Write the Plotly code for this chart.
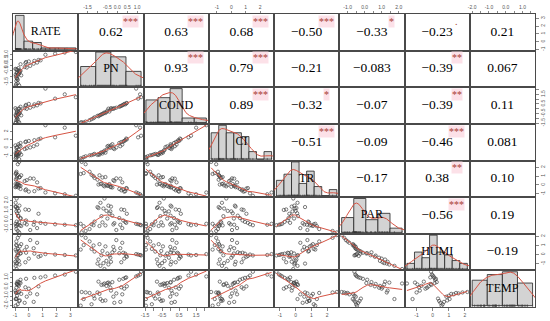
import numpy as np
import plotly.graph_objects as go
from plotly.subplots import make_subplots

VARS = ["RATE", "PN", "COND", "CI", "TR", "PAR", "HUMI", "TEMP"]

RATE = [-0.70, -0.80, 0.10, -0.90, 0.60, -0.55, -0.85, -0.15, -0.92, -0.65,
        0.35, -0.80, -0.95, -0.30, -0.70, -0.88, 3.40, 2.60, 1.90, 1.20,
        0.85, 0.40, -0.20, -0.60, -0.75, -0.85, -0.60, -0.78, 0.70, -0.90,
        0.00, -0.82, -0.97, -0.72, -0.25, -0.85, -0.93, -0.68, -0.95, -0.88]
PN = [-1.80, -1.60, -0.05, -1.40, 0.25, -0.90, -1.20, -0.20, -1.70, -0.60,
      0.15, -1.30, -1.85, -0.15, -0.75, -1.15, 1.20, 1.15, 1.05, 0.95,
      0.45, 0.40, 0.30, 0.10, -0.25, -0.40, -0.50, -0.80, 0.48, -0.35,
      0.35, -0.95, -0.32, -0.55, 0.20, -0.70, -1.00, -0.45, -0.85, -0.65]
COND = [-1.42, -1.35, 0.10, -1.20, 0.35, -0.70, -1.00, -0.02, -1.45, -0.45,
        0.25, -1.10, -1.45, 0.05, -0.55, -0.90, 1.20, 1.50, 1.05, 2.10,
        0.55, 0.45, 0.40, 0.20, 0.00, -0.30, -0.20, -0.60, 0.60, -0.10,
        0.50, -0.80, 0.05, -0.35, 0.30, -0.50, -0.75, 0.00, -0.65, -0.40]
CI = [-1.40, -1.05, 0.05, -0.93, 0.40, -0.85, -0.82, -0.05, -1.15, -0.60,
      0.20, -0.90, -1.30, -0.15, -0.70, -0.75, 1.50, 2.50, 1.30, 2.80,
      1.15, 0.95, 0.78, 0.60, 0.45, 0.10, 0.18, -0.55, 1.05, 0.00,
      0.85, -0.80, 0.30, -0.25, 0.72, -0.50, -0.88, 0.25, -0.65, -0.35]
TR = [2.62, 2.35, 0.75, 1.50, 0.30, 1.10, 1.00, 0.55, 1.35, 0.90,
      0.72, 1.15, 1.25, 0.45, 0.85, 0.80, -1.22, -1.05, -0.95, -0.85,
      -0.35, -0.70, -0.50, -0.45, -0.28, 0.10, -0.10, 0.15, -0.40, -0.20,
      -0.75, 0.05, -0.25, 0.00, -0.60, -0.05, 0.60, -0.08, 0.12, -0.15]
PAR = [-1.35, -1.20, -1.10, -1.00, -0.90, -0.68, -0.60, -0.52, -0.70, -0.62,
       -0.55, -0.50, -0.45, -0.38, -0.30, -0.22, -0.60, -0.55, -0.50, -0.45,
       -0.35, -0.25, -0.10, 0.15, 0.40, 0.65, 0.10, 0.35, 0.60, 0.85,
       1.00, 1.20, 1.35, 0.90, 1.05, 1.15, 1.30, 1.45, 1.75, 2.20]
HUMI = [2.15, 1.85, 1.60, 1.45, 1.30, 1.15, 1.00, 0.85, 1.05, 0.90,
        0.70, 0.62, 0.55, 0.48, 0.40, 0.33, -0.10, -0.05, 0.00, 0.05,
        -0.15, 0.10, 0.20, 0.15, 0.25, -0.12, 0.12, -0.08, -0.25, -0.35,
        -0.45, -0.55, -0.80, -0.70, -0.85, -0.95, -1.00, -1.10, -1.25, -1.60]
TEMP = [-0.55, -0.60, -0.70, -0.65, -0.80, -0.75, -0.95, -1.05, -1.30, -1.45,
        -1.60, -1.85, -2.00, -1.70, -1.50, -1.25, 1.60, 1.30, 1.20, 1.10,
        1.00, 0.95, 0.85, 0.75, 0.50, 0.30, 0.40, 0.20, 0.05, -0.10,
        -0.20, 0.55, -0.40, 0.10, -0.05, 0.25, -0.60, 0.45, -1.30, 0.35]
DATA = [RATE, PN, COND, CI, TR, PAR, HUMI, TEMP]

# printed correlation coefficients (upper panels, row by row)
COR_ROWS = [
    ["0.62", "0.63", "0.68", "\u22120.50", "\u22120.33", "\u22120.23", "0.21"],
    ["0.93", "0.79", "\u22120.21", "\u22120.083", "\u22120.39", "0.067"],
    ["0.89", "\u22120.32", "\u22120.07", "\u22120.39", "0.11"],
    ["\u22120.51", "\u22120.09", "\u22120.46", "0.081"],
    ["\u22120.17", "0.38", "0.10"],
    ["\u22120.56", "0.19"],
    ["\u22120.19"],
]
SIG_ROWS = [
    ["***", "***", "***", "***", "*", ".", ""],
    ["***", "***", "", "", "**", ""],
    ["***", "*", "", "**", ""],
    ["***", "", "***", ""],
    ["", "**", ""],
    ["***", ""],
    [""],
]

TICKS = {
    "RATE": ([-1, 0, 1, 2, 3], ["-1", "0", "1", "2", "3"]),
    "PN": ([-1.5, -1.0, -0.5, 0.0, 0.5, 1.0], ["-1.5", "", "-0.5", "0.0", "0.5", "1.0"]),
    "COND": ([-1.5, -1.0, -0.5, 0.0, 0.5, 1.0, 1.5, 2.0],
             ["-1.5", "", "-0.5", "", "0.5", "", "1.5", ""]),
    "CI": ([-1, 0, 1, 2], ["-1", "0", "1", "2"]),
    "TR": ([-1, 0, 1, 2], ["-1", "0", "1", "2"]),
    "PAR": ([-1.0, -0.5, 0.0, 0.5, 1.0, 1.5, 2.0], ["-1.0", "", "0.0", "", "1.0", "", "2.0"]),
    "HUMI": ([-1, 0, 1, 2], ["-1", "0", "1", "2"]),
    "TEMP": ([-2.0, -1.5, -1.0, -0.5, 0.0, 0.5, 1.0, 1.5],
             ["-2.0", "", "-1.0", "", "0.0", "", "1.0", ""]),
}
HIST_BINS = [7, 4, 5, 8, 8, 5, 8, 4]

N = len(VARS)
SERIF = "Liberation Serif, Times New Roman, serif"
RED = "#d65444"
BORDER = "#4a4a4a"


def lowess(x, y, f=2 / 3, iters=3):
    x = np.asarray(x, float)
    y = np.asarray(y, float)
    o = np.argsort(x, kind="mergesort")
    x, y = x[o], y[o]
    n = len(x)
    ns = max(min(int(round(f * n)), n), 2)
    rw = np.ones(n)
    ys = np.zeros(n)
    for it in range(iters + 1):
        for i in range(n):
            d = np.abs(x - x[i])
            h = np.sort(d)[ns - 1]
            if h <= 0:
                w = (d <= 0).astype(float)
            else:
                u = np.clip(d / h, 0, 1)
                w = (1 - u ** 3) ** 3
                w[d > 0.999 * h] = 0
                w[d <= 0.001 * h] = 1
            w = w * rw
            sw = w.sum()
            if sw <= 0:
                ys[i] = y[i]
                continue
            xm = (w * x).sum() / sw
            ym = (w * y).sum() / sw
            sxx = (w * (x - xm) ** 2).sum()
            if np.sqrt(sxx / sw) > 0.001 * (x.max() - x.min()):
                b = (w * (x - xm) * (y - ym)).sum() / sxx
                ys[i] = ym + b * (x[i] - xm)
            else:
                ys[i] = ym
        if it == iters:
            break
        res = y - ys
        s = np.median(np.abs(res))
        if s <= 0:
            break
        u = res / (6 * s)
        rw = np.where(np.abs(u) < 1, (1 - u ** 2) ** 2, 0.0)
    return x, ys


def kde(v):
    v = np.asarray(v, float)
    n = len(v)
    sd = v.std(ddof=1)
    q75, q25 = np.percentile(v, [75, 25])
    bw = 0.9 * min(sd, (q75 - q25) / 1.34) * n ** -0.2
    g = np.linspace(v.min() - 3 * bw, v.max() + 3 * bw, 512)
    dens = np.exp(-0.5 * ((g[:, None] - v[None, :]) / bw) ** 2).sum(1) / (n * bw * np.sqrt(2 * np.pi))
    return g, dens


def padded(lo, hi):
    w = hi - lo
    return [float(lo - 0.04 * w), float(hi + 0.04 * w)]


RANGES = [padded(min(v), max(v)) for v in DATA]

fig = make_subplots(rows=N, cols=N, horizontal_spacing=0, vertical_spacing=0)

layout_axes = {}
annotations = []


def idx_of(r, c):
    return r * N + c + 1


def axkey(idx, a):
    return f"{a}axis" if idx == 1 else f"{a}axis{idx}"


def aref(idx, a):
    return a if idx == 1 else f"{a}{idx}"


base_axis = dict(showline=True, mirror=True, linecolor=BORDER, linewidth=1,
                 showgrid=False, zeroline=False, ticks="", showticklabels=False,
                 fixedrange=True, automargin=False)

for r in range(N):
    for c in range(N):
        idx = idx_of(r, c)
        xa = dict(base_axis)
        ya = dict(base_axis)
        if r > c:
            xv = np.asarray(DATA[c], float)
            yv = np.asarray(DATA[r], float)
            fig.add_trace(go.Scatter(x=xv, y=yv, mode="markers",
                                     marker=dict(symbol="circle-open", size=3.3,
                                                 color="#454545", line=dict(width=0.7, color="#454545")),
                                     hoverinfo="skip"), row=r + 1, col=c + 1)
            lx, ly = lowess(xv, yv)
            fig.add_trace(go.Scatter(x=lx, y=ly, mode="lines",
                                     line=dict(color=RED, width=1), hoverinfo="skip"),
                          row=r + 1, col=c + 1)
            xa["range"] = RANGES[c]
            ya["range"] = RANGES[r]
        elif r == c:
            v = np.asarray(DATA[r], float)
            edges = np.linspace(v.min(), v.max(), HIST_BINS[r] + 1)
            dens, _ = np.histogram(v, bins=edges, density=True)
            centers = (edges[:-1] + edges[1:]) / 2
            width = edges[1] - edges[0]
            fig.add_trace(go.Bar(x=centers, y=dens, width=width,
                                 marker=dict(color="#d3d3d3", line=dict(color="#222222", width=0.8)),
                                 hoverinfo="skip"), row=r + 1, col=c + 1)
            g, dd = kde(v)
            fig.add_trace(go.Scatter(x=g, y=dd, mode="lines",
                                     line=dict(color=RED, width=1), hoverinfo="skip"),
                          row=r + 1, col=c + 1)
            m = dens.max()
            ylo, yhi = -0.04 * m, 1.04 * m
            fig.add_trace(go.Scatter(x=v, y=np.full(len(v), ylo + 0.012 * (yhi - ylo)), mode="markers",
                                     marker=dict(symbol="line-ns", size=3,
                                                 line=dict(width=0.6, color="#333333")),
                                     hoverinfo="skip"), row=r + 1, col=c + 1)
            xa["range"] = padded(edges[0], edges[-1])
            ya["range"] = [float(ylo), float(yhi)]
            fig.add_trace(go.Scatter(x=[float(np.mean(xa["range"]))], y=[float(np.mean(ya["range"]))],
                                     mode="text", text=[VARS[r]], textposition="middle center",
                                     textfont=dict(family=SERIF, size=12, color="black"),
                                     hoverinfo="skip"), row=r + 1, col=c + 1)
        else:
            xa["range"] = RANGES[c]
            ya["range"] = RANGES[r]
            txt = COR_ROWS[r][c - r - 1]
            sig = SIG_ROWS[r][c - r - 1]
            fig.add_trace(go.Scatter(x=[float(np.mean(RANGES[c]))], y=[float(np.mean(RANGES[r]))],
                                     mode="text", text=[txt], textposition="middle center",
                                     textfont=dict(family=SERIF, size=13.5, color="black"),
                                     hoverinfo="skip"), row=r + 1, col=c + 1)
            if sig:
                ann = dict(text=sig, x=0.8, y=0.8, xanchor="center", yanchor="middle",
                           xref=f"{aref(idx, 'x')} domain", yref=f"{aref(idx, 'y')} domain",
                           showarrow=False, borderpad=0,
                           font=dict(family=SERIF, size=10, color="#a8402f"))
                if sig != ".":
                    ann["bgcolor"] = "rgba(252,222,230,0.9)"
                annotations.append(ann)

        tick_style = dict(ticks="outside", ticklen=2.5, tickwidth=0.7, tickcolor="#555555",
                          showticklabels=True,
                          tickfont=dict(family="Liberation Sans, Arial, sans-serif", size=5, color="#555555"))
        if r == 0 and c % 2 == 1:
            tv, tt = TICKS[VARS[c]]
            xa.update(tick_style, side="top", tickvals=tv, ticktext=tt, tickangle=0)
        if r == N - 1 and c % 2 == 0:
            tv, tt = TICKS[VARS[c]]
            xa.update(tick_style, side="bottom", tickvals=tv, ticktext=tt, tickangle=0)
        if c == 0 and r % 2 == 1:
            tv, tt = TICKS[VARS[r]]
            ya.update(tick_style, side="left", tickvals=tv, ticktext=tt, tickangle=-90)
        if c == N - 1 and r % 2 == 0:
            tv, tt = TICKS[VARS[r]]
            ya.update(tick_style, side="right", tickvals=tv, ticktext=tt, tickangle=-90)
        layout_axes[axkey(idx, "x")] = xa
        layout_axes[axkey(idx, "y")] = ya

fig.update_layout(**layout_axes)
fig.update_layout(
    width=550, height=321,
    margin=dict(l=13, r=15, t=14, b=14, autoexpand=False),
    paper_bgcolor="white", plot_bgcolor="white",
    showlegend=False, bargap=0,
    annotations=annotations,
)

fig.write_html("out.html", config={"displayModeBar": False, "staticPlot": True},
               post_script="document.body.style.margin='0px';")
